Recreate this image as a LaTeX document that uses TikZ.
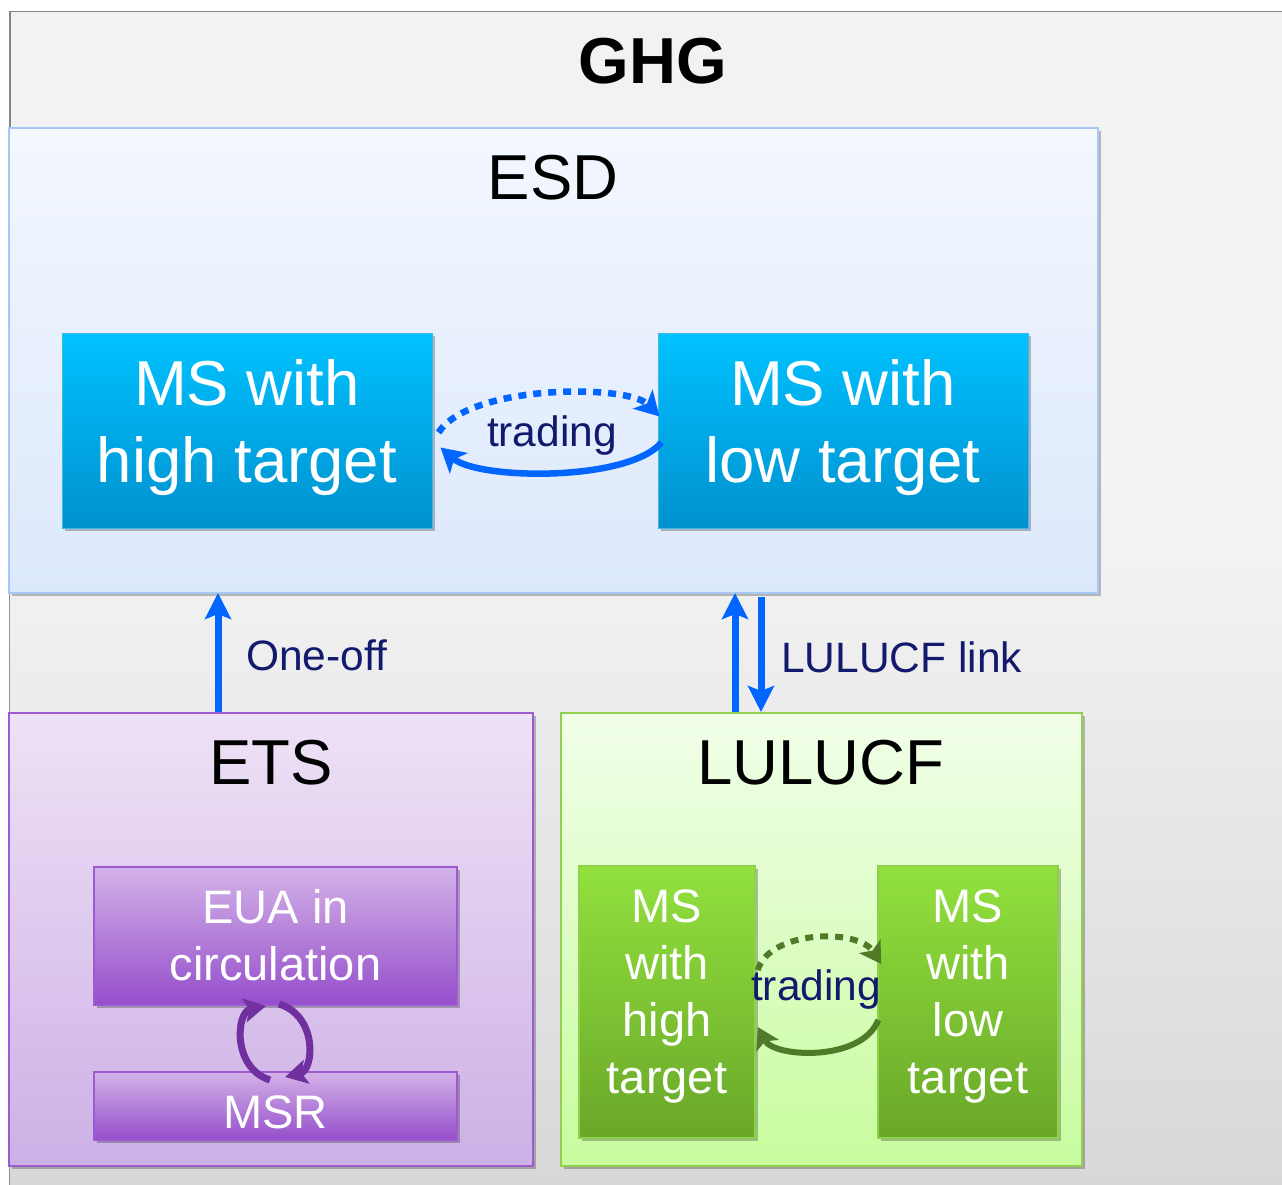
\documentclass[tikz,border=0pt]{standalone}
\usepackage{fontspec}
\setmainfont{Liberation Sans}
\usetikzlibrary{arrows.meta,shadows}

\definecolor{ghgline}{HTML}{858585}
\definecolor{ghgtop}{HTML}{F2F2F2}
\definecolor{ghgbot}{HTML}{D8D8D8}
\definecolor{esdline}{HTML}{A6C8F6}
\definecolor{esdtop}{HTML}{F3F7FE}
\definecolor{esdbot}{HTML}{DCE8FC}
\definecolor{cyantop}{HTML}{00C2FF}
\definecolor{cyanbot}{HTML}{0091CE}
\definecolor{cyanline}{HTML}{40B8EA}
\definecolor{etsline}{HTML}{9E5AD0}
\definecolor{etstop}{HTML}{EEE2F6}
\definecolor{etsbot}{HTML}{CDB0E6}
\definecolor{euatop}{HTML}{D3B2E8}
\definecolor{euabot}{HTML}{954ECB}
\definecolor{lulline}{HTML}{92D050}
\definecolor{lultop}{HTML}{F1FEE9}
\definecolor{lulbot}{HTML}{C8FC9E}
\definecolor{grntop}{HTML}{92E13E}
\definecolor{grnbot}{HTML}{69A729}
\definecolor{grnline}{HTML}{8ED24C}
\definecolor{arrowblue}{HTML}{0066FF}
\definecolor{navy}{HTML}{111A6C}
\definecolor{darkgreen}{HTML}{4F7A28}
\definecolor{cyclepurple}{HTML}{7030A0}

\tikzset{
  softshadow/.style={drop shadow={shadow xshift=3pt, shadow yshift=-3pt, opacity=0.25, fill=black}},
  panel/.style={rectangle, inner sep=0pt, line width=2pt, softshadow},
  esdpanel/.style={panel, draw=esdline, top color=esdtop, bottom color=esdbot},
  etspanel/.style={panel, draw=etsline, top color=etstop, bottom color=etsbot},
  lulpanel/.style={panel, draw=lulline, top color=lultop, bottom color=lulbot},
  cyanbox/.style={panel, line width=1pt, draw=cyanline, top color=cyantop, bottom color=cyanbot},
  purplebox/.style={panel, line width=1.5pt, draw=etsline, top color=euatop, bottom color=euabot},
  greenbox/.style={panel, line width=1.5pt, draw=grnline, top color=grntop, bottom color=grnbot},
  bigtitle/.style={inner sep=0pt, font=\fontsize{63.5}{74}\selectfont, text=black},
  whitebig/.style={inner sep=0pt, align=center, text=white, font=\fontsize{63.5}{77}\selectfont},
  whitemid/.style={inner sep=0pt, align=center, text=white, font=\fontsize{47}{57}\selectfont},
  linklabel/.style={inner sep=0pt, text=navy, font=\fontsize{42.5}{48}\selectfont},
  bluelink/.style={draw=arrowblue, line width=7pt, -{Stealth[length=26pt,width=26pt,inset=5pt]}},
  bluetrade/.style={draw=arrowblue, line width=6.5pt, -{Stealth[length=24pt,width=27pt,inset=6pt]}},
  greentrade/.style={draw=darkgreen, line width=6pt, -{Stealth[length=21pt,width=25pt,inset=5pt]}},
  dotline/.style={dash pattern=on 8pt off 7pt},
  cyclearrow/.style={draw=cyclepurple, line width=7pt, -{Stealth[length=22pt,width=24pt,inset=5pt]}},
}

\begin{document}
\begin{tikzpicture}[x=1pt,y=-1pt]
\useasboundingbox (0,0) rectangle (1282,1185);
\clip (0,0) rectangle (1282,1185);
\fill[white] (0,0) rectangle (1282,1185);

% outer GHG panel, running off the right and bottom edges
\node[rectangle, inner sep=0pt, draw=ghgline, line width=1.5pt, fill=ghgtop,
      minimum width=1400pt, minimum height=1300pt, anchor=north west] (ghg) at (9,11) {};
\shade[top color=ghgtop, bottom color=ghgbot] (9.8,560) rectangle (1282,1185);
\node[inner sep=0pt, font=\fontsize{65}{78}\selectfont\bfseries] (ghgtitle) at (653,61) {GHG};

% ESD panel
\node[esdpanel, minimum width=1089pt, minimum height=465pt] (esd) at (553.5,360.5) {};
\node[bigtitle] (esdtitle) at (553,178) {ESD};
\node[cyanbox, minimum width=370pt, minimum height=195pt] (esdhi) at (247,430.5) {};
\node[cyanbox, minimum width=370pt, minimum height=195pt] (esdlo) at (843,430.5) {};
\node[whitebig] (esdhitext) at (247,428) {MS with\\high target};
\node[whitebig] (esdlotext) at (843,428) {MS with\\low target};

% trading between the ESD member states
\draw[bluetrade, dotline] ([xshift=6pt,yshift=-2pt]esdhi.east)
  .. controls (470,384) and (628,384) .. ([xshift=2pt,yshift=14pt]esdlo.west);
\draw[bluetrade] ([xshift=4pt,yshift=-12pt]esdlo.west)
  .. controls (628,482) and (478,480) .. ([xshift=8pt,yshift=-17pt]esdhi.east);
\node[linklabel] (esdtrade) at (552,436) {trading};

% ETS panel
\node[etspanel, minimum width=524pt, minimum height=453pt] (ets) at (271,939.5) {};
\node[bigtitle] (etstitle) at (271,763) {ETS};
\node[purplebox, minimum width=363pt, minimum height=138pt] (eua) at (275.5,936) {};
\node[purplebox, minimum width=363pt, minimum height=68pt] (msr) at (275.5,1106) {};
\node[whitemid] (euatext) at (275.5,935) {EUA in\\circulation};
\node[whitemid] (msrtext) at (275.5,1112) {MSR};

% exchange between circulation and the reserve
\coordinate (cycL0) at (270,1080);
\coordinate (cycL1) at (266,1006);
\coordinate (cycR0) at (279,1004);
\coordinate (cycR1) at (285,1077);
\draw[cyclearrow] (cycL0) .. controls (232,1068) and (236,1012) .. (cycL1);
\draw[cyclearrow] (cycR0) .. controls (318,1016) and (314,1070) .. (cycR1);

% LULUCF panel
\node[lulpanel, minimum width=521pt, minimum height=453pt] (lul) at (821.5,939.5) {};
\node[bigtitle] (lultitle) at (821,763) {LULUCF};
\node[greenbox, minimum width=176pt, minimum height=272pt] (lulhi) at (667,1002) {};
\node[greenbox, minimum width=180pt, minimum height=272pt] (lullo) at (968,1002) {};
\node[whitemid] (lulhitext) at (667,996) {MS\\with\\high\\target};
\node[whitemid] (lullotext) at (968,996) {MS\\with\\low\\target};

% trading between the LULUCF member states
\draw[greentrade, dotline] ([xshift=2pt,yshift=32pt]lulhi.east)
  .. controls (770,930) and (858,928) .. ([xshift=4pt,yshift=38pt]lullo.west);
\draw[greentrade] ([xshift=1pt,yshift=-18pt]lullo.west)
  .. controls (862,1062) and (774,1058) .. ([xshift=2pt,yshift=-25pt]lulhi.east);
\node[linklabel] (lultrade) at (816,990) {trading};

% links between the panels
\coordinate (oneoffx) at (218,0);
\coordinate (lulupx) at (735,0);
\coordinate (luldownx) at (761,0);
\draw[bluelink] (ets.north -| oneoffx) -- ([yshift=1pt]esd.south -| oneoffx);
\draw[bluelink] (lul.north -| lulupx) -- ([yshift=1pt]esd.south -| lulupx);
\draw[bluelink] ([yshift=-3pt]esd.south -| luldownx) -- (lul.north -| luldownx);
\node[linklabel, anchor=base west] (oneoff) at (246,670) {One-off};
\node[linklabel, anchor=base west] (lullink) at (781,672) {LULUCF link};
\end{tikzpicture}
\end{document}
